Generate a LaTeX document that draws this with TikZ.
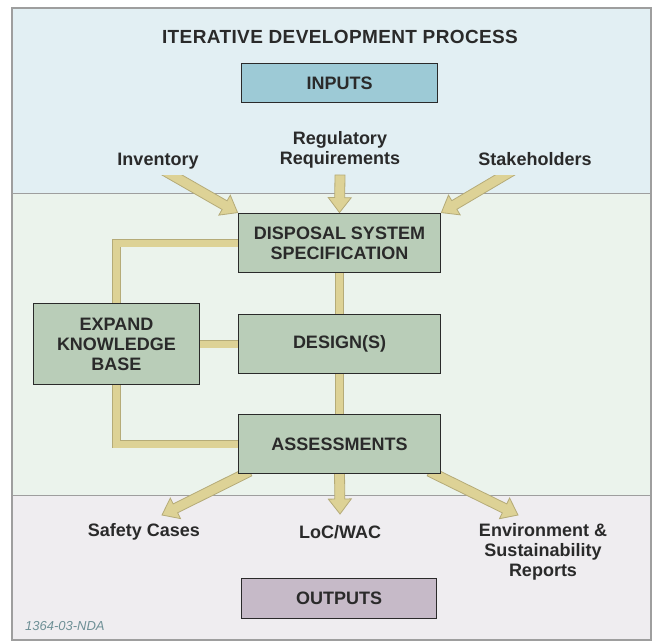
\documentclass[tikz,border=0pt]{standalone}
\usepackage{fontspec}
\setmainfont{Liberation Sans}
\usetikzlibrary{calc}
\definecolor{topband}{HTML}{E2EFF3}
\definecolor{midband}{HTML}{EBF3EC}
\definecolor{botband}{HTML}{EFEDF0}
\definecolor{boxgreen}{HTML}{B9CDB8}
\definecolor{inblue}{HTML}{9DCAD6}
\definecolor{outpurple}{HTML}{C6BAC8}
\definecolor{khaki}{HTML}{DDD296}
\definecolor{khakiedge}{HTML}{B5AB78}
\definecolor{ink}{HTML}{2A2A2A}
\definecolor{framegray}{HTML}{9E9E9E}
\definecolor{notecol}{HTML}{6E9096}
\pgfdeclarelayer{back}\pgfdeclarelayer{mid}\pgfsetlayers{back,mid,main}
\tikzset{
  txt/.style={text=ink, font=\fontsize{18}{20}\selectfont\bfseries, align=center, inner sep=0pt},
  procbox/.style={txt, draw=ink, line width=1.8pt, fill=boxgreen},
  conn/.style={double=khaki, double distance=7pt, draw=khakiedge, line width=0.9pt},
  fat/.style={fill=khaki, draw=khakiedge, line width=0.8pt, line join=miter}
}
\newcommand\fatarr[2]{%
  \coordinate (fa-h) at ($(#2)!15pt!(#1)$);
  \filldraw[fat] ($(#1)!5pt!90:(#2)$) -- ($(fa-h)!5pt!90:(#2)$) -- ($(fa-h)!11.5pt!90:(#2)$) -- (#2)
    -- ($(fa-h)!11.5pt!-90:(#2)$) -- ($(fa-h)!5pt!-90:(#2)$) -- ($(#1)!5pt!-90:(#2)$) -- cycle;}
\begin{document}
\begin{tikzpicture}[x=1pt,y=-1pt]
\useasboundingbox (0,0) rectangle (653,640);
\begin{pgfonlayer}{back}
  \fill[topband] (12,8) rectangle (651,193);
  \fill[midband] (12,193) rectangle (651,495);
  \fill[botband] (12,495) rectangle (651,640);
  \draw[framegray, line width=1pt] (12,193) -- (651,193);
  \draw[framegray, line width=1pt] (12,495) -- (651,495);
\end{pgfonlayer}

\node[txt, font=\fontsize{19}{21}\selectfont\bfseries\addfontfeature{LetterSpace=2}] (title) at (340,37) {ITERATIVE DEVELOPMENT PROCESS};
\node[procbox, fill=inblue, minimum width=196pt, minimum height=39pt] (inputs) at (339.5,83) {INPUTS};
\node[txt, anchor=base] (inv) at (158,165.5) {Inventory};
\node[txt] (reg) at (340,150) {Regulatory\\Requirements};
\node[txt, anchor=base] (stk) at (535,165.5) {Stakeholders};

\node[procbox, minimum width=202pt, minimum height=59pt] (dss) at (339.5,243) {DISPOSAL SYSTEM\\SPECIFICATION};
\node[procbox, minimum width=202pt, minimum height=59pt] (des) at (339.5,344) {DESIGN(S)};
\node[procbox, minimum width=202pt, minimum height=59pt] (ass) at (339.5,444) {ASSESSMENTS};
\node[procbox, minimum width=166pt, minimum height=81pt] (ekb) at (116.5,344) {EXPAND\\KNOWLEDGE\\BASE};

\node[txt] (saf) at (144,532) {Safety Cases};
\node[txt] (loc) at (340,532) {LoC/WAC};
\node[txt] (env) at (543,552) {Environment \&\\Sustainability\\Reports};
\node[procbox, fill=outpurple, minimum width=195pt, minimum height=40pt] (outputs) at (339,598.5) {OUTPUTS};

\node[text=notecol, font=\fontsize{13}{15}\selectfont\itshape, inner sep=0pt, anchor=west] (note) at (25,626) {1364-03-NDA};

\begin{pgfonlayer}{mid}
  \draw[conn] (dss.west) -| (ekb.north);
  \draw[conn] (ekb.south) |- (ass.west);
  \draw[conn] (ekb.east) -- (des.west);
  \draw[conn] (dss.south) -- (des.north);
  \draw[conn] (des.south) -- (ass.north);
  \coordinate (invT0) at (172,175);
  \coordinate (regT) at (340,175);
  \coordinate (stkT0) at (505,175);
  \coordinate (invT) at ($(invT0)!-0.3!(dss.north west)$);
  \coordinate (stkT) at ($(stkT0)!-0.3!(dss.north east)$);
  \begin{scope}
    \clip (0,175) rectangle (653,640);
    \fatarr{invT}{dss.north west}
    \fatarr{stkT}{dss.north east}
  \end{scope}
  \fatarr{regT}{dss.north}
  \coordinate (safS) at ($(ass.south west)+(12,-3)$);
  \coordinate (locS) at ($(ass.south)+(0,-3)$);
  \coordinate (envS) at ($(ass.south east)+(-12,-3)$);
  \coordinate (safE) at (162,515);
  \coordinate (locE) at (340,514);
  \coordinate (envE) at (518,515);
  \fatarr{safS}{safE}
  \fatarr{locS}{locE}
  \fatarr{envS}{envE}
\end{pgfonlayer}
\draw[framegray, line width=1.5pt] (12,8) rectangle (651,640);
\end{tikzpicture}
\end{document}
